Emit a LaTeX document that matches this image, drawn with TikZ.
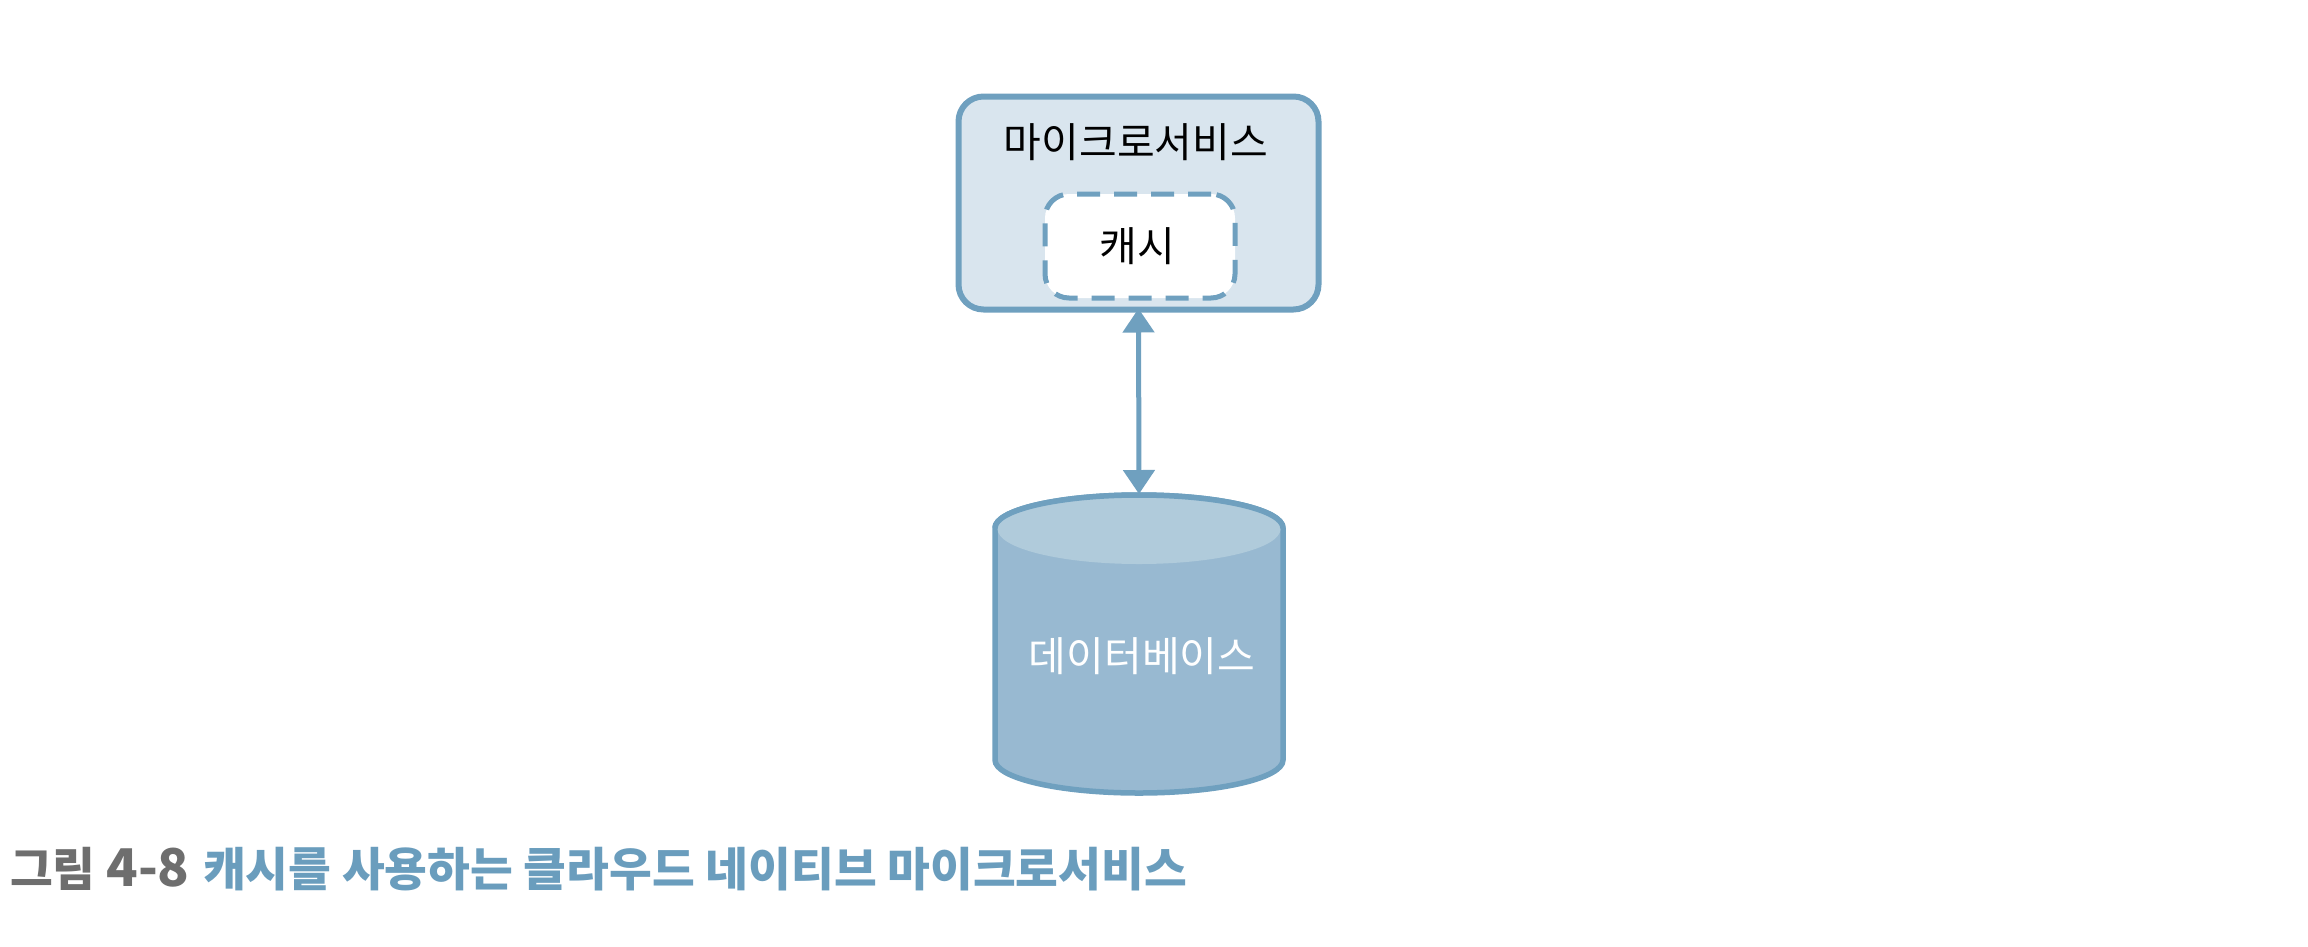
\documentclass[tikz,border=0pt]{standalone}
\usepackage{fontspec}
\usetikzlibrary{arrows.meta}
\setmainfont{Noto Sans CJK KR}
\definecolor{edge}{HTML}{6FA0BF}
\definecolor{boxfill}{HTML}{D9E5EE}
\definecolor{dbfill}{HTML}{98B9D1}
\definecolor{dbtop}{HTML}{B0CBDB}
\definecolor{capgrey}{HTML}{6E6E6E}
\definecolor{capblue}{HTML}{6A9DBD}
\tikzset{
  service/.style={draw=edge,fill=boxfill,line width=6pt,rounded corners=25pt,minimum width=360pt,minimum height=213pt,inner sep=0pt},
  cachebox/.style={draw=edge,fill=white,line width=5pt,rounded corners=24pt,dash pattern=on 23pt off 14pt,minimum width=190pt,minimum height=104pt,inner sep=0pt},
  dbbody/.style={minimum width=288pt,minimum height=298pt,inner sep=0pt,outer sep=0pt},
  lbl/.style={font=\fontsize{41}{44}\selectfont,inner sep=0pt},
  captxt/.style={font=\fontsize{46.5}{50}\selectfont\bfseries,inner sep=0pt,anchor=west},
  link/.style={draw=edge,line width=5pt,shorten <=-4pt,shorten >=-2pt,{Triangle[length=24pt,width=31pt]}-{Triangle[length=24pt,width=31pt]}}
}
\begin{document}
\begin{tikzpicture}[x=1pt,y=-1pt]
\useasboundingbox (0,0) rectangle (2308,946);
\node[service] (ms) at (1138.5,203) {};
\node[lbl,text=black] (mslabel) at (1136,142) {마이크로서비스};
\node[cachebox] (cache) at (1140,246) {};
\node[lbl,text=black] (cachelabel) at (1137,246) {캐시};
\node[dbbody] (db) at (1139,644) {};
\path[fill=dbfill,draw=edge,line width=5.5pt]
  ([yshift=116pt]db.west) -- ([yshift=-116pt]db.west)
  arc[start angle=180,end angle=360,x radius=144pt,y radius=33pt]
  -- ([yshift=116pt]db.east)
  arc[start angle=0,end angle=180,x radius=144pt,y radius=33pt]
  -- cycle;
\fill[dbtop] ([yshift=115pt]db.center) ellipse[x radius=141.5pt,y radius=35pt];
\draw[edge,line width=5.5pt] ([yshift=116pt]db.west) arc[start angle=180,end angle=0,x radius=144pt,y radius=33pt];
\coordinate (dbtopmid) at ([yshift=152pt]db.center);
\node[lbl,text=white] (dblabel) at (1142,656) {데이터베이스};
\draw[link] (ms.south) -- (dbtopmid);
\node[captxt,text=capgrey] (capa) at (10,869) {그림 {\fontsize{52}{50}\selectfont 4-8}};
\node[captxt,text=capblue] (capb) at (203,869) {캐시를 사용하는 클라우드 네이티브 마이크로서비스};
\end{tikzpicture}
\end{document}
